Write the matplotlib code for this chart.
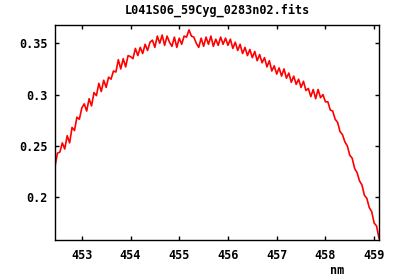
import numpy as np
import matplotlib
matplotlib.use("Agg")
import matplotlib.pyplot as plt

start_nm = 452.45
step_nm = 0.05
flux = [
  0.230, 0.243, 0.244, 0.253, 0.247, 0.260, 0.253, 0.268, 0.265, 0.278,
  0.276, 0.287, 0.291, 0.284, 0.296, 0.289, 0.302, 0.299, 0.311, 0.303,
  0.314, 0.307, 0.317, 0.315, 0.323, 0.322, 0.334, 0.325, 0.335, 0.327,
  0.338, 0.337, 0.335, 0.345, 0.338, 0.346, 0.340, 0.349, 0.343, 0.351,
  0.353, 0.346, 0.357, 0.350, 0.358, 0.348, 0.357, 0.351, 0.347, 0.356,
  0.346, 0.355, 0.349, 0.357, 0.356, 0.363, 0.357, 0.356, 0.350, 0.346,
  0.355, 0.347, 0.356, 0.349, 0.357, 0.347, 0.354, 0.348, 0.356, 0.349,
  0.355, 0.348, 0.354, 0.345, 0.351, 0.343, 0.349, 0.340, 0.346, 0.338,
  0.344, 0.336, 0.342, 0.333, 0.339, 0.331, 0.336, 0.327, 0.333, 0.323,
  0.328, 0.320, 0.326, 0.318, 0.325, 0.316, 0.321, 0.312, 0.318, 0.310,
  0.315, 0.307, 0.313, 0.304, 0.306, 0.298, 0.305, 0.296, 0.305, 0.297,
  0.300, 0.293, 0.293, 0.285, 0.284, 0.276, 0.273, 0.264, 0.261, 0.254,
  0.250, 0.241, 0.238, 0.228, 0.224, 0.216, 0.212, 0.202, 0.199, 0.190,
  0.186, 0.175, 0.172, 0.160,
]
xticks = [453, 454, 455, 456, 457, 458, 459]
yticks = [0.2, 0.25, 0.3, 0.35]
ylabels = ["0.2", "0.25", "0.3", "0.35"]
title = "L041S06_59Cyg_0283n02.fits"

wl = start_nm + step_nm * np.arange(len(flux))

plt.rcParams['font.family'] = ['DejaVu Sans Mono']
plt.rcParams['font.weight'] = 'bold'

fig = plt.figure(figsize=(4, 2.8), dpi=100)
ax = fig.add_axes([55/400, 40/280, 324/400, 215/280])

ax.plot(wl, flux, color='#ff0000', lw=1.2)

ax.set_xlim(452.45, 459.10)
ax.set_ylim(0.1584, 0.3678)
ax.set_xticks(xticks)
ax.set_yticks(yticks)
ax.set_yticklabels(ylabels)
ax.tick_params(direction='in', length=3, width=1, top=True, right=True,
               labelsize=8.5, colors='black')
ax.tick_params(axis='x', pad=6.5)
ax.tick_params(axis='y', pad=5.5)
for s in ax.spines.values():
  s.set_linewidth(1)

fig.text(217/400, 1 - 10/280, title, ha='center', va='center', fontsize=8.5)
fig.text(337/400, 1 - 270/280, "nm", ha='center', va='center', fontsize=8.5)

plt.savefig('out.png', dpi=100)
